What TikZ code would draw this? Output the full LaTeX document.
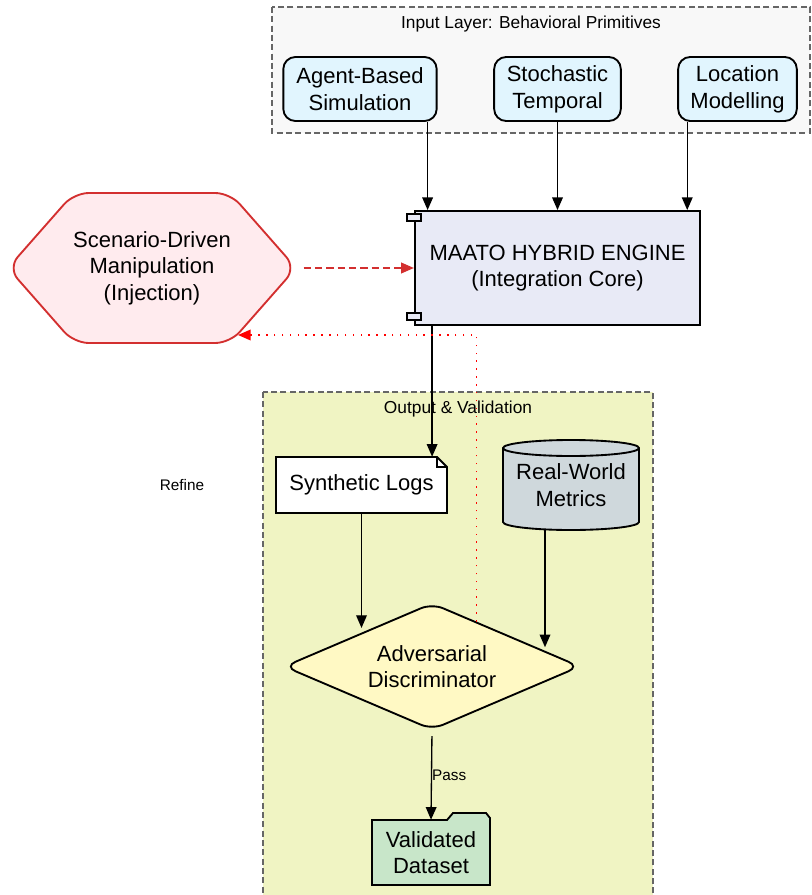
\documentclass[tikz,border=0pt]{standalone}
\usepackage{fontspec}
\setmainfont{Liberation Sans}
\usetikzlibrary{arrows.meta,calc,shapes.geometric}

\definecolor{primfill}{HTML}{E1F5FE}
\definecolor{enginefill}{HTML}{E8EAF6}
\definecolor{scenfill}{HTML}{FFEBEE}
\definecolor{scenred}{HTML}{D32F2F}
\definecolor{inputbg}{HTML}{F8F8F8}
\definecolor{outputbg}{HTML}{F0F4C3}
\definecolor{metricfill}{HTML}{CFD8DC}
\definecolor{discfill}{HTML}{FFF9C4}
\definecolor{validfill}{HTML}{C8E6C9}

\tikzset{
  bigtext/.style={font=\fontsize{16.5}{20}\selectfont, align=center},
  smalltext/.style={font=\fontsize{11.5}{14}\selectfont},
  clustertext/.style={font=\fontsize{13}{16}\selectfont},
  cluster/.style={draw=black!60, dash pattern=on 4.5pt off 2.5pt, line width=0.9pt},
  shapeline/.style={draw=black, line width=1.4pt},
  primbox/.style={shapeline, fill=primfill, rounded corners=9pt, bigtext,
    minimum height=48pt, inner sep=0pt},
  arr/.style={-{Triangle[length=9.5pt,width=8pt]}, line width=1pt},
  inject/.style={-{Triangle[length=9.5pt,width=8pt]}, scenred, line width=1.1pt,
    dash pattern=on 5.5pt off 3pt},
  feedback/.style={-{Triangle[length=9.5pt,width=8pt]}, red, line width=1.1pt,
    dash pattern=on 1.1pt off 4.8pt}
}

\begin{document}
\begin{tikzpicture}[x=0.75pt,y=-0.75pt]
  \useasboundingbox (0,0) rectangle (812,895);

  % Input layer
  \draw[cluster, fill=inputbg] (272,7) rectangle (810,133);
  \node[clustertext] (inlabel) at (531,24) {Input Layer: Behavioral Primitives};
  \node[primbox, minimum width=115pt] (agent) at (360,89) {Agent-Based\\Simulation};
  \node[primbox, minimum width=95pt] (stoch) at (557.5,89) {Stochastic\\Temporal};
  \node[primbox, minimum width=89pt] (loc) at (737.5,89) {Location\\Modelling};

  % Output & validation
  \draw[cluster, fill=outputbg] (263,392) rectangle (653,905);
  \node[clustertext] (outlabel) at (458,409) {Output \& Validation};

  % Engine
  \node[shapeline, fill=enginefill, bigtext, minimum width=214pt, minimum height=85.5pt]
    (engine) at (557.5,268) {MAATO HYBRID ENGINE\\(Integration Core)};
  \draw[shapeline, line width=1.1pt, fill=enginefill] ([shift={(-7,4)}]engine.north west) rectangle ++(14,7);
  \draw[shapeline, line width=1.1pt, fill=enginefill] ([shift={(-7,-13)}]engine.south west) rectangle ++(14,7);

  % Scenario injection
  \draw[draw=scenred, line width=1.4pt, fill=scenfill, rounded corners=11pt]
    (8,268) -- (74,193) -- (230,193) -- (296,268) -- (230,343) -- (74,343) -- cycle;
  \node[bigtext, minimum width=213pt, minimum height=112.5pt] (scen) at (152,268)
    {Scenario-Driven\\Manipulation\\(Injection)};

  % Synthetic logs
  \draw[shapeline, fill=white] (276,457) -- (437,457) -- (447,467) -- (447,513) -- (276,513) -- cycle;
  \draw[line width=0.9pt] (437,457) -- (437,467) -- (447,467);
  \node[bigtext, minimum width=128pt, minimum height=42pt] (logs) at (361.5,485) {Synthetic Logs};

  % Real-world metrics
  \draw[shapeline, fill=metricfill] (503,448) -- (503,522)
    arc[start angle=180, end angle=360, x radius=51pt, y radius=6pt] -- (639,448)
    arc[start angle=0, end angle=180, x radius=51pt, y radius=6pt] -- cycle;
  \draw[shapeline] (503,448) arc[start angle=180, end angle=360, x radius=51pt, y radius=6pt];
  \node[bigtext, minimum width=102pt, minimum height=67.5pt] (metrics) at (571,485) {Real-World\\Metrics};

  % Discriminator
  \node[shapeline, fill=discfill, shape=diamond, aspect=2.36, rounded corners=9pt,
    inner sep=0pt, minimum width=222pt, minimum height=95pt, bigtext]
    (disc) at (432,666.5) {Adversarial\\Discriminator};

  % Validated dataset
  \draw[shapeline, fill=validfill] (372,820) -- (447,820) -- (453,813) -- (486,813)
    -- (490,818) -- (490,885) -- (372,885) -- cycle;
  \node[bigtext, minimum width=88.5pt, minimum height=48.75pt] (valid) at (431,852.5) {Validated\\Dataset};

  % Flow
  \coordinate (a1) at ([xshift=-7.5pt]agent.south east);
  \coordinate (a3) at ([xshift=7.5pt]loc.south west);
  \draw[arr] (a1) -- (a1 |- engine.north);
  \draw[arr] (stoch.south) -- (stoch.south |- engine.north);
  \draw[arr] (a3) -- (a3 |- engine.north);
  \draw[inject, shorten <=7pt] (scen.east) -- (engine.west);

  \coordinate (lgtop) at ([xshift=-11.25pt]logs.north east);
  \draw[arr] (engine.south -| lgtop) -- (lgtop);
  \coordinate (lgin) at ($(disc.north)!0.4!(disc.west)$);
  \draw[arr] (logs.south) -- (logs.south |- lgin);
  \coordinate (mtout) at ([xshift=-19.5pt]metrics.south);
  \coordinate (mtin) at ($(disc.north)!0.7!(disc.east)$);
  \draw[arr] (mtout) -- (mtout |- mtin);
  \draw[arr, shorten <=4pt] (disc.south) -- node[smalltext, right, inner sep=0pt, pos=0.5] {Pass} (valid.north);

  % Refine loop
  \coordinate (fbout) at ($(disc.north)!0.3!(disc.east)$);
  \coordinate (scenhit) at ([shift={(86,67)}]scen.center);
  \draw[feedback] (fbout) |- (scenhit);
  \node[smalltext] (refinelbl) at (182,485) {Refine};
\end{tikzpicture}
\end{document}
